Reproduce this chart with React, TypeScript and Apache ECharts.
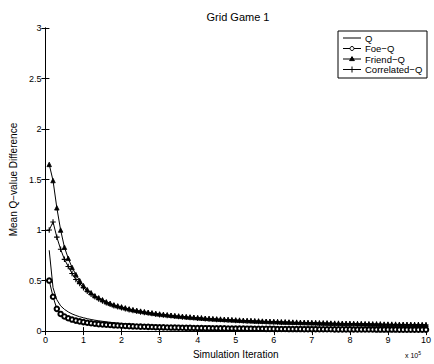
import React, { useEffect, useRef } from "react";
import * as echarts from "echarts";

const xValues: number[] = Array.from({ length: 100 }, (_, i) => +((i + 1) / 10).toFixed(1));

const qValues = [
  0.80, 0.43, 0.31, 0.25, 0.215, 0.19, 0.17, 0.155, 0.142, 0.132,
  0.123, 0.115, 0.108, 0.102, 0.097, 0.092, 0.087, 0.083, 0.079, 0.076,
  0.073, 0.07, 0.067, 0.064, 0.062, 0.06, 0.058, 0.056, 0.054, 0.052,
  0.051, 0.049, 0.048, 0.047, 0.045, 0.044, 0.043, 0.042, 0.041, 0.04,
  0.039, 0.038, 0.037, 0.037, 0.036, 0.035, 0.034, 0.034, 0.033, 0.032,
  0.032, 0.031, 0.031, 0.03, 0.03, 0.029, 0.029, 0.028, 0.028, 0.027,
  0.027, 0.026, 0.026, 0.026, 0.025, 0.025, 0.024, 0.024, 0.024, 0.023,
  0.023, 0.023, 0.022, 0.022, 0.022, 0.021, 0.021, 0.021, 0.02, 0.02,
  0.02, 0.02, 0.019, 0.019, 0.019, 0.019, 0.018, 0.018, 0.018, 0.018,
  0.017, 0.017, 0.017, 0.017, 0.017, 0.016, 0.016, 0.016, 0.016, 0.016,
];

const foeValues = [
  0.50, 0.34, 0.22, 0.17, 0.145, 0.127, 0.114, 0.104, 0.096, 0.089,
  0.083, 0.078, 0.073, 0.069, 0.066, 0.063, 0.06, 0.057, 0.055, 0.053,
  0.051, 0.049, 0.047, 0.046, 0.044, 0.043, 0.042, 0.04, 0.039, 0.038,
  0.037, 0.036, 0.035, 0.035, 0.034, 0.033, 0.032, 0.032, 0.031, 0.03,
  0.03, 0.029, 0.029, 0.028, 0.028, 0.027, 0.027, 0.026, 0.026, 0.025,
  0.025, 0.025, 0.024, 0.024, 0.023, 0.023, 0.023, 0.022, 0.022, 0.022,
  0.021, 0.021, 0.021, 0.02, 0.02, 0.02, 0.02, 0.019, 0.019, 0.019,
  0.019, 0.018, 0.018, 0.018, 0.018, 0.017, 0.017, 0.017, 0.017, 0.017,
  0.016, 0.016, 0.016, 0.016, 0.016, 0.016, 0.015, 0.015, 0.015, 0.015,
  0.015, 0.015, 0.014, 0.014, 0.014, 0.014, 0.014, 0.014, 0.014, 0.014,
];

const friendValues = [
  1.65, 1.49, 1.22, 1.00, 0.83, 0.72, 0.63, 0.56, 0.50, 0.45,
  0.41, 0.38, 0.35, 0.33, 0.31, 0.29, 0.275, 0.26, 0.25, 0.24,
  0.23, 0.22, 0.212, 0.205, 0.198, 0.192, 0.186, 0.18, 0.175, 0.17,
  0.165, 0.161, 0.157, 0.153, 0.149, 0.146, 0.142, 0.139, 0.136, 0.133,
  0.13, 0.127, 0.125, 0.122, 0.12, 0.118, 0.116, 0.114, 0.112, 0.11,
  0.108, 0.106, 0.104, 0.103, 0.101, 0.1, 0.098, 0.097, 0.095, 0.094,
  0.093, 0.091, 0.09, 0.089, 0.088, 0.087, 0.086, 0.085, 0.084, 0.083,
  0.082, 0.081, 0.08, 0.079, 0.078, 0.077, 0.077, 0.076, 0.075, 0.074,
  0.074, 0.073, 0.072, 0.072, 0.071, 0.07, 0.07, 0.069, 0.068, 0.068,
  0.067, 0.067, 0.066, 0.066, 0.065, 0.065, 0.064, 0.064, 0.063, 0.063,
];

const correlatedValues = [
  1.00, 1.08, 0.93, 0.81, 0.71, 0.64, 0.57, 0.51, 0.47, 0.43,
  0.395, 0.365, 0.34, 0.318, 0.298, 0.28, 0.265, 0.252, 0.24, 0.23,
  0.22, 0.211, 0.203, 0.196, 0.19, 0.184, 0.178, 0.173, 0.168, 0.163,
  0.159, 0.155, 0.151, 0.147, 0.144, 0.14, 0.137, 0.134, 0.131, 0.128,
  0.126, 0.123, 0.121, 0.118, 0.116, 0.114, 0.112, 0.11, 0.108, 0.106,
  0.104, 0.103, 0.101, 0.099, 0.098, 0.096, 0.095, 0.093, 0.092, 0.091,
  0.09, 0.088, 0.087, 0.086, 0.085, 0.084, 0.083, 0.082, 0.081, 0.08,
  0.079, 0.078, 0.077, 0.077, 0.076, 0.075, 0.074, 0.073, 0.073, 0.072,
  0.071, 0.071, 0.07, 0.069, 0.069, 0.068, 0.068, 0.067, 0.066, 0.066,
  0.065, 0.065, 0.064, 0.064, 0.063, 0.063, 0.062, 0.062, 0.061, 0.061,
];

const seriesNames = ["Q", "Foe\u2212Q", "Friend\u2212Q", "Correlated\u2212Q"];

const FONT = "Liberation Sans, Arial, sans-serif";
const PLUS = "path://M-1,-0.2H-0.2V-1H0.2V-0.2H1V0.2H0.2V1H-0.2V0.2H-1Z";

function legendGraphic() {
  const bx = 338, by = 31, bw = 89, bh = 47;
  const rowH = 10.5;
  const children: any[] = [
    { type: "rect", shape: { x: bx, y: by, width: bw, height: bh }, style: { fill: "#fff", stroke: "#000", lineWidth: 1 } },
  ];
  seriesNames.forEach((name, i) => {
    const cy = by + 7 + i * rowH;
    const x1 = bx + 5, x2 = bx + 23, mx = (x1 + x2) / 2;
    children.push({ type: "line", shape: { x1, y1: cy, x2, y2: cy }, style: { stroke: "#000", lineWidth: 1 } });
    if (i === 1) children.push({ type: "circle", shape: { cx: mx, cy, r: 2 }, style: { fill: "#fff", stroke: "#000", lineWidth: 1 } });
    if (i === 2) children.push({ type: "polygon", shape: { points: [[mx, cy - 2.4], [mx - 2.4, cy + 1.6], [mx + 2.4, cy + 1.6]] }, style: { fill: "#000", stroke: "#000", lineWidth: 1 } });
    if (i === 3) children.push({ type: "line", shape: { x1: mx, y1: cy - 3, x2: mx, y2: cy + 3 }, style: { stroke: "#000", lineWidth: 1 } });
    children.push({
      type: "text",
      x: bx + 27,
      y: cy,
      style: { text: name, fontFamily: FONT, fontSize: 9.5, fill: "#000", verticalAlign: "middle", align: "left" },
    });
  });
  return { type: "group", children };
}

export default function App() {
  const ref = useRef<HTMLDivElement>(null);
  useEffect(() => {
    if (!ref.current) return;
    const chart = echarts.init(ref.current, undefined, { renderer: "svg" });
    const pair = (ys: number[]) => xValues.map((x, i) => [x, ys[i]]);
    const base = {
      type: "line",
      showAllSymbol: true,
      lineStyle: { color: "#000", width: 1, type: "solid" },
      emphasis: { disabled: true },
      z: 2,
    };
    chart.setOption({
      animation: false,
      backgroundColor: "#fff",
      textStyle: { fontFamily: FONT, color: "#000" },
      title: {
        text: "Grid Game 1",
        left: 233,
        top: 6,
        textAlign: "center",
        textStyle: { fontFamily: FONT, fontSize: 11, fontWeight: "normal", color: "#000" },
      },
      grid: { left: 37, right: 4, top: 28, bottom: 24 },
      xAxis: [
        {
          type: "value",
          min: 0,
          max: 10,
          interval: 1,
          name: "Simulation Iteration",
          nameLocation: "middle",
          nameGap: 14,
          nameTextStyle: { fontFamily: FONT, fontSize: 10, color: "#000" },
          axisLine: { lineStyle: { color: "#000", width: 1 } },
          axisTick: { inside: true, length: 4, lineStyle: { color: "#000" } },
          axisLabel: { fontFamily: FONT, fontSize: 9, color: "#000", margin: 4, showMaxLabel: true },
          splitLine: { show: false },
        },
        {
          type: "value",
          position: "top",
          min: 0,
          max: 10,
          interval: 1,
          axisLine: { lineStyle: { color: "#000", width: 1 } },
          axisTick: { inside: true, length: 4, lineStyle: { color: "#000" } },
          axisLabel: { show: false },
          splitLine: { show: false },
        },
      ],
      yAxis: [
        {
          type: "value",
          min: 0,
          max: 3,
          interval: 0.5,
          name: "Mean Q\u2212value Difference",
          nameLocation: "middle",
          nameGap: 21,
          nameTextStyle: { fontFamily: FONT, fontSize: 10, color: "#000" },
          axisLine: { show: true, lineStyle: { color: "#000", width: 1 } },
          axisTick: { show: true, inside: true, length: 4, lineStyle: { color: "#000" } },
          axisLabel: { fontFamily: FONT, fontSize: 9, color: "#000", margin: 4 },
          splitLine: { show: false },
        },
        {
          type: "value",
          position: "right",
          min: 0,
          max: 3,
          interval: 0.5,
          axisLine: { show: true, lineStyle: { color: "#000", width: 1 } },
          axisTick: { show: true, inside: true, length: 4, lineStyle: { color: "#000" } },
          axisLabel: { show: false },
          splitLine: { show: false },
        },
      ],
      graphic: [
        legendGraphic(),
        {
          type: "text",
          left: 405,
          top: 350,
          style: {
            text: "{a|x 10}{b|5}",
            rich: {
              a: { fontFamily: FONT, fontSize: 7, fill: "#000", verticalAlign: "bottom" },
              b: { fontFamily: FONT, fontSize: 5, fill: "#000", verticalAlign: "top", padding: [0, 0, 4, 0] },
            },
          },
        },
      ],
      series: [
        { ...base, name: seriesNames[0], data: pair(qValues), symbol: "none", showSymbol: false, itemStyle: { color: "#000" } },
        { ...base, name: seriesNames[1], data: pair(foeValues), symbol: "emptyCircle", symbolSize: 4.5, itemStyle: { color: "#000", borderColor: "#000", borderWidth: 1 } },
        { ...base, name: seriesNames[2], data: pair(friendValues), symbol: "triangle", symbolSize: 4.5, itemStyle: { color: "#000", borderColor: "#000", borderWidth: 0.8 } },
        { ...base, name: seriesNames[3], data: pair(correlatedValues), symbol: PLUS, symbolSize: 5.5, itemStyle: { color: "#000", borderWidth: 0 } },
      ],
    });
    return () => chart.dispose();
  }, []);
  return <div ref={ref} style={{ width: 434, height: 364, position: "absolute", left: 0, top: 0 }} />;
}
